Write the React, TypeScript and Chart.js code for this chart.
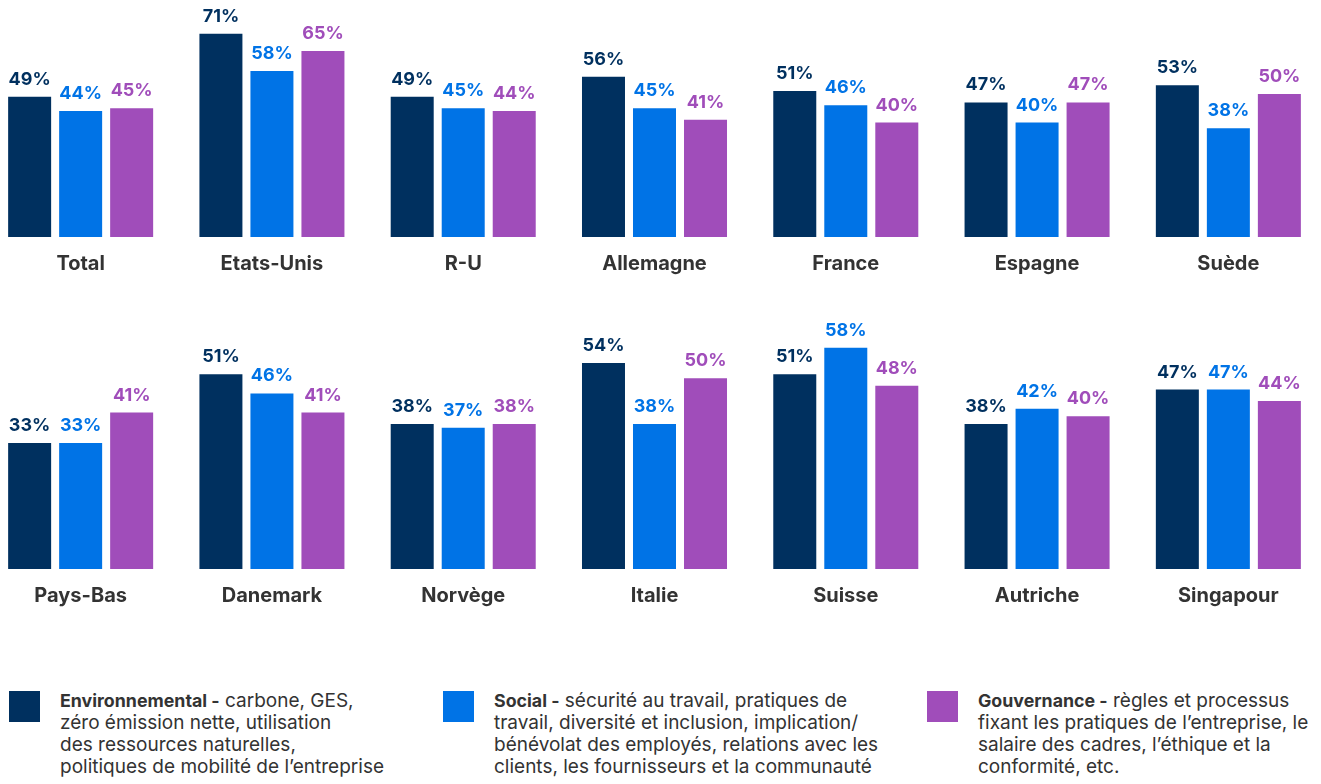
import React, { useEffect, useRef } from "react";
import { Chart, registerables } from "chart.js";

Chart.register(...registerables);

const categoriesTop = ["Total", "Etats-Unis", "R-U", "Allemagne", "France", "Espagne", "Suède"];
const envTop = [49, 71, 49, 56, 51, 47, 53];
const socTop = [44, 58, 45, 45, 46, 40, 38];
const govTop = [45, 65, 44, 41, 40, 47, 50];

const categoriesBottom = ["Pays-Bas", "Danemark", "Norvège", "Italie", "Suisse", "Autriche", "Singapour"];
const envBottom = [33, 51, 38, 54, 51, 38, 47];
const socBottom = [33, 46, 37, 38, 58, 42, 47];
const govBottom = [41, 41, 38, 50, 48, 40, 44];

const seriesNames = ["Environnemental", "Social", "Gouvernance"];
const COLORS = ["#00305f", "#0073e6", "#a04dba"];
const FONT = "Inter, Roboto, 'Liberation Sans', Arial, sans-serif";

const valueLabels = {
  id: "valueLabels",
  afterDatasetsDraw(chart: any) {
    const ctx = chart.ctx;
    ctx.save();
    ctx.font = `700 18px ${FONT}`;
    ctx.textAlign = "center";
    ctx.textBaseline = "alphabetic";
    chart.data.datasets.forEach((ds: any, i: number) => {
      const meta = chart.getDatasetMeta(i);
      ctx.fillStyle = ds.backgroundColor;
      meta.data.forEach((el: any, j: number) => {
        ctx.fillText(`${ds.data[j]}%`, el.x, el.y - 12);
      });
    });
    ctx.restore();
  },
};

const PAD_TOP = 20;
const AXIS_H = 40;
const PLOT_H = 229;
const CANVAS_H = PAD_TOP + PLOT_H + AXIS_H;

function BarRow({ labels, env, soc, gov, max, top }: any) {
  const ref = useRef<HTMLCanvasElement>(null);
  useEffect(() => {
    if (!ref.current) return;
    const chart = new Chart(ref.current, {
      type: "bar",
      data: {
        labels,
        datasets: [env, soc, gov].map((d, i) => ({
          label: seriesNames[i],
          data: d,
          backgroundColor: COLORS[i],
          borderWidth: 0,
          categoryPercentage: 0.8,
          barPercentage: 0.843,
        })),
      },
      options: {
        responsive: false,
        animation: false,
        layout: { padding: { top: PAD_TOP, left: 0, right: 0, bottom: 0 } },
        plugins: { legend: { display: false }, tooltip: { enabled: false } },
        scales: {
          y: { display: false, min: 0, max },
          x: {
            grid: { display: false },
            border: { display: false },
            ticks: {
              color: "#333333",
              padding: 9,
              font: { family: FONT, size: 20, weight: "bold", lineHeight: 1 },
            },
            afterFit: (scale: any) => {
              scale.height = AXIS_H;
            },
          },
        },
      },
      plugins: [valueLabels],
    });
    return () => chart.destroy();
  }, []);
  return (
    <canvas
      ref={ref}
      width={1339}
      height={CANVAS_H}
      style={{ position: "absolute", left: -15, top: top - PAD_TOP, width: 1339, height: CANVAS_H }}
    />
  );
}

const legendItems = [
  {
    color: COLORS[0],
    left: 9,
    bold: "Environnemental -",
    lines: ["carbone, GES,", "zéro émission nette, utilisation", "des ressources naturelles,", "politiques de mobilité de l’entreprise"],
  },
  {
    color: COLORS[1],
    left: 443,
    bold: "Social -",
    lines: ["sécurité au travail, pratiques de", "travail, diversité et inclusion, implication/", "bénévolat des employés, relations avec les", "clients, les fournisseurs et la communauté"],
  },
  {
    color: COLORS[2],
    left: 927,
    bold: "Gouvernance -",
    lines: ["règles et processus", "fixant les pratiques de l’entreprise, le", "salaire des cadres, l’éthique et la", "conformité, etc."],
  },
];

export default function App() {
  return (
    <div
      style={{
        position: "absolute",
        left: 0,
        top: 0,
        width: 1321,
        height: 784,
        overflow: "hidden",
        background: "#ffffff",
      }}
    >
      <BarRow labels={categoriesTop} env={envTop} soc={socTop} gov={govTop} max={80} top={8} />
      <BarRow labels={categoriesBottom} env={envBottom} soc={socBottom} gov={govBottom} max={60} top={340} />
      {legendItems.map((it, i) => (
        <div key={i}>
          <div
            style={{
              position: "absolute",
              left: it.left,
              top: 691,
              width: 31,
              height: 31,
              background: it.color,
            }}
          />
          <div
            style={{
              position: "absolute",
              left: it.left + 51,
              top: 690,
              fontFamily: FONT,
              fontSize: 19,
              lineHeight: "22px",
              color: "#333333",
              whiteSpace: "nowrap",
            }}
          >
            <b style={{ fontWeight: 700, fontSize: 17.8 }}>{it.bold}</b> {it.lines[0]}
            {it.lines.slice(1).map((l, k) => (
              <div key={k}>{l}</div>
            ))}
          </div>
        </div>
      ))}
    </div>
  );
}
